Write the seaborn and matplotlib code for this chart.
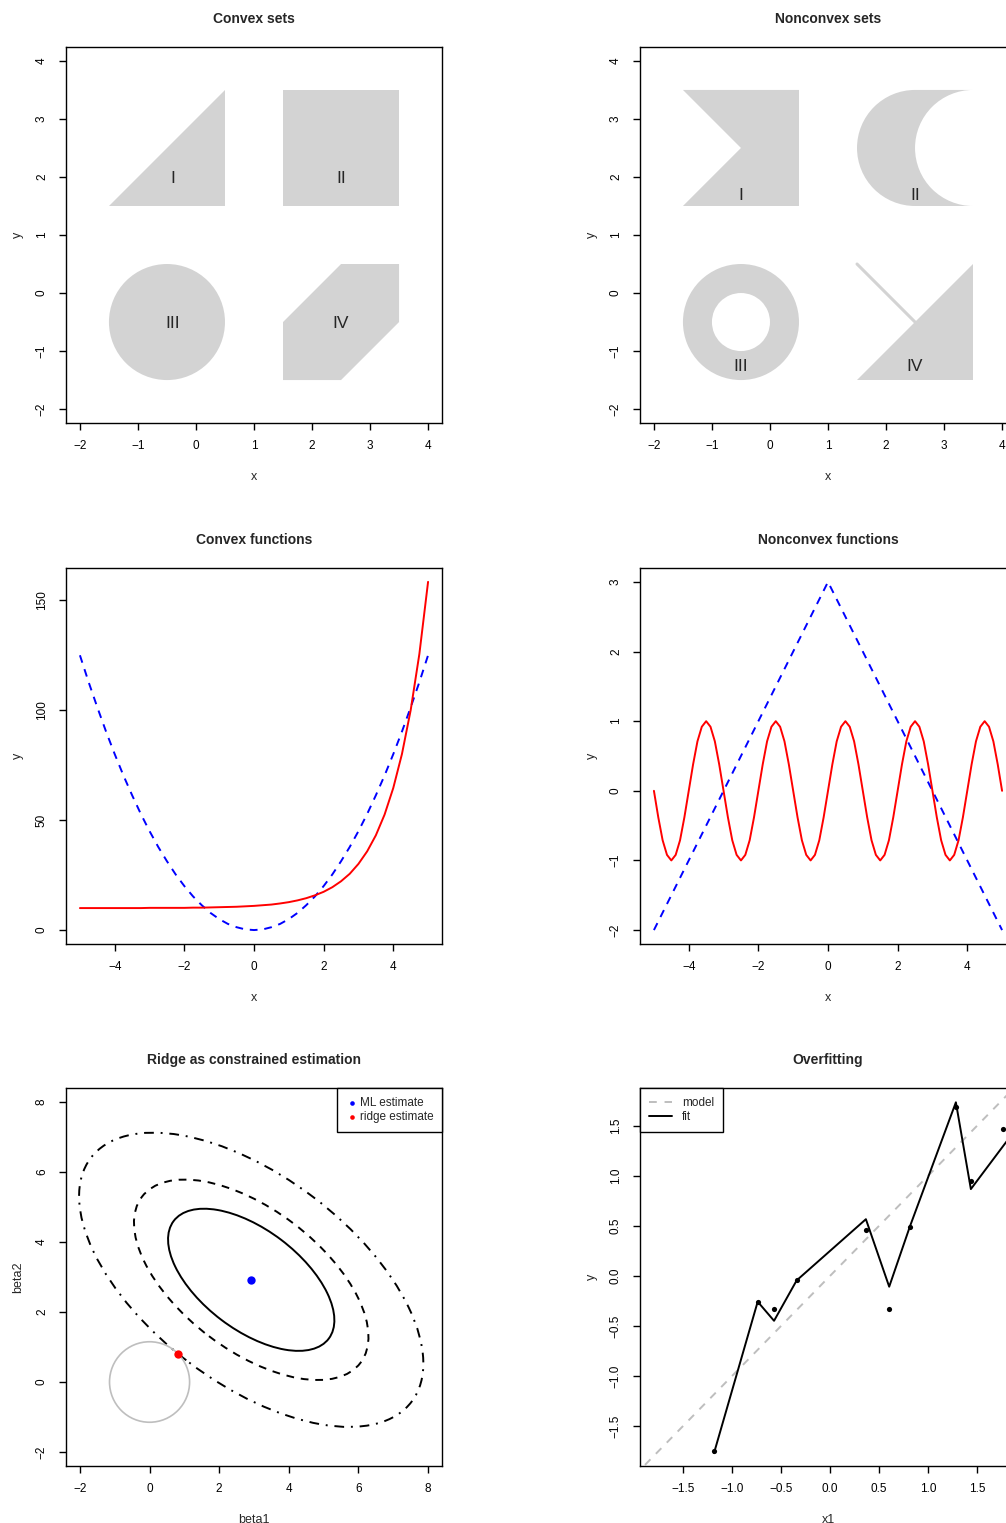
import numpy as np
import matplotlib
matplotlib.use("Agg")
import matplotlib.pyplot as plt
import seaborn as sns
from matplotlib.path import Path
from matplotlib.patches import Circle, Wedge, Ellipse, PathPatch

# ---- data ---------------------------------------------------------------
set_labels = ["I", "II", "III", "IV"]

# convex sets
cvx_tri_x = [-1.5, 0.5, 0.5]
cvx_tri_y = [1.5, 1.5, 3.5]
cvx_sq_x = [1.5, 3.5, 3.5, 1.5]
cvx_sq_y = [1.5, 1.5, 3.5, 3.5]
cvx_disc_center = (-0.5, -0.5)
cvx_disc_r = 1.0
cvx_oct_x = [1.5, 2.5, 3.5, 3.5, 2.5, 1.5]
cvx_oct_y = [-1.5, -1.5, -0.5, 0.5, 0.5, -0.5]
cvx_label_x = [-0.4, 2.5, -0.4, 2.5]
cvx_label_y = [1.97, 1.97, -0.53, -0.53]

# nonconvex sets
ncv_notch_x = [-1.5, 0.5, 0.5, -1.5, -0.5]
ncv_notch_y = [1.5, 1.5, 3.5, 3.5, 2.5]
ncv_moon_center = (2.5, 2.5)
ncv_bite_center = (3.5, 2.5)
ncv_moon_r = 1.0
ncv_ring_center = (-0.5, -0.5)
ncv_ring_r = [1.0, 0.5]
ncv_tri_x = [1.5, 3.5, 3.5]
ncv_tri_y = [-1.5, -1.5, 0.5]
ncv_seg_x = [1.5, 2.5]
ncv_seg_y = [0.5, -0.5]
ncv_label_x = [-0.5, 2.5, -0.5, 2.5]
ncv_label_y = [1.68, 1.68, -1.27, -1.27]

# convex functions (x from -5 to 5, step 0.25)
fx = np.linspace(-5, 5, 41)
f_exp = [10.0, 10.0, 10.0, 10.0, 10.0, 10.0, 10.0, 10.0, 10.1, 10.1, 10.1,
         10.1, 10.1, 10.2, 10.2, 10.3, 10.4, 10.5, 10.6, 10.8, 11.0, 11.3,
         11.6, 12.1, 12.7, 13.5, 14.5, 15.8, 17.4, 19.5, 22.2, 25.6, 30.1,
         35.8, 43.1, 52.5, 64.6, 80.1, 100.0, 125.6, 158.4]
f_quad = [125.0, 112.8, 101.3, 90.3, 80.0, 70.3, 61.3, 52.8, 45.0, 37.8, 31.3,
          25.3, 20.0, 15.3, 11.3, 7.8, 5.0, 2.8, 1.3, 0.3, 0.0, 0.3, 1.3, 2.8,
          5.0, 7.8, 11.3, 15.3, 20.0, 25.3, 31.3, 37.8, 45.0, 52.8, 61.3, 70.3,
          80.0, 90.3, 101.3, 112.8, 125.0]

# nonconvex functions
tent_x = [-5.0, 0.0, 5.0]
tent_y = [-2.0, 3.0, -2.0]
wave_x = np.linspace(-5, 5, 81)
wave_y = [0.0, -0.38, -0.71, -0.92, -1.0, -0.92, -0.71, -0.38,
          0.0, 0.38, 0.71, 0.92, 1.0, 0.92, 0.71, 0.38,
          0.0, -0.38, -0.71, -0.92, -1.0, -0.92, -0.71, -0.38,
          0.0, 0.38, 0.71, 0.92, 1.0, 0.92, 0.71, 0.38,
          0.0, -0.38, -0.71, -0.92, -1.0, -0.92, -0.71, -0.38,
          0.0, 0.38, 0.71, 0.92, 1.0, 0.92, 0.71, 0.38,
          0.0, -0.38, -0.71, -0.92, -1.0, -0.92, -0.71, -0.38,
          0.0, 0.38, 0.71, 0.92, 1.0, 0.92, 0.71, 0.38,
          0.0, -0.38, -0.71, -0.92, -1.0, -0.92, -0.71, -0.38,
          0.0, 0.38, 0.71, 0.92, 1.0, 0.92, 0.71, 0.38,
          0.0]

# ridge
ml_est = (2.92, 2.92)
ridge_est = (0.81, 0.80)
constraint_r = 1.15
contour_axes = (2.79, 1.43)   # semi axes of innermost contour
contour_angle = -37.0
contour_scale = [1.0, 1.41, 2.07]
contour_styles = ["-", (0, (4, 3.5)), (0, (1, 3.5, 5, 3.5))]

# overfitting
obs_x = [-1.184, -0.738, -0.571, -0.340, 0.367, 0.605, 0.816, 1.286, 1.439, 1.769]
obs_y = [-1.75, -0.257, -0.327, -0.044, 0.458, -0.334, 0.494, 1.690, 0.955, 1.466]
fit_x = [-1.184, -0.738, -0.571, -0.340, 0.367, 0.605, 0.816, 1.286, 1.439, 1.769, 1.90]
fit_y = [-1.77, -0.257, -0.448, -0.044, 0.568, -0.107, 0.494, 1.737, 0.869, 1.30, 1.47]
model_x = [-2.0, 2.0]
model_y = [-2.0, 2.0]

# ---- style --------------------------------------------------------------
sns.set_theme(style="ticks")
plt.rcParams["font.family"] = ["Liberation Sans", "DejaVu Sans"]
plt.rcParams.update({
    "axes.edgecolor": "black",
    "axes.linewidth": 1.0,
    "xtick.color": "black",
    "ytick.color": "black",
    "xtick.major.size": 5,
    "ytick.major.size": 5,
    "xtick.major.width": 1.0,
    "ytick.major.width": 1.0,
    "xtick.labelsize": 8.5,
    "ytick.labelsize": 8.5,
    "xtick.major.pad": 7.5,
    "ytick.major.pad": 8,
    "axes.labelsize": 9,
    "axes.titlesize": 10,
    "axes.titleweight": "bold",
    "legend.fontsize": 8.5,
})

FILL = "#D3D3D3"
GREY = "#BEBEBE"
W, H = 1006, 1523
fig = plt.figure(figsize=(W / 100, H / 100), dpi=100)


def add_panel(left, top, w, h):
    return fig.add_axes([left / W, 1 - (top + h) / H, w / W, h / H])


def finish(ax, title, xlabel, ylabel, xlim, ylim, xticks, yticks):
    ax.set_xlim(xlim)
    ax.set_ylim(ylim)
    ax.set_xticks(xticks)
    ax.set_yticks(yticks)
    ax.set_title(title, pad=17)
    ax.set_xlabel(xlabel)
    ax.set_ylabel(ylabel)
    ax.xaxis.set_label_coords(0.5, -0.127)
    ax.yaxis.set_label_coords(-0.112, 0.5)
    ax.tick_params(axis="y", labelrotation=90)
    plt.setp(ax.get_yticklabels(), va="center")
    for s in ax.spines.values():
        s.set_visible(True)


def arc_vertices(center, radius, t1, t2):
    return Path.arc(t1, t2).vertices * radius + np.asarray(center)


# ---- convex sets --------------------------------------------------------
ax1 = add_panel(66, 47, 376, 376)
ax1.fill(cvx_tri_x, cvx_tri_y, color=FILL, lw=0)
ax1.fill(cvx_sq_x, cvx_sq_y, color=FILL, lw=0)
ax1.add_patch(Circle(cvx_disc_center, cvx_disc_r, color=FILL, lw=0))
ax1.fill(cvx_oct_x, cvx_oct_y, color=FILL, lw=0)
for lab, x, y in zip(set_labels, cvx_label_x, cvx_label_y):
    ax1.text(x, y, lab, ha="center", va="center", fontsize=12.5)
finish(ax1, "Convex sets", "x", "y", (-2.24, 4.24), (-2.24, 4.24),
       range(-2, 5), range(-2, 5))

# ---- nonconvex sets -----------------------------------------------------
ax2 = add_panel(640, 47, 376, 376)
ax2.fill(ncv_notch_x, ncv_notch_y, color=FILL, lw=0)
outer = arc_vertices(ncv_moon_center, ncv_moon_r, 90, 270)
inner = arc_vertices(ncv_bite_center, ncv_moon_r, 90, 270)[::-1]
verts = np.vstack([outer, inner, outer[:1]])
codes = ([Path.MOVETO] + [Path.CURVE4] * (len(outer) - 1) + [Path.LINETO]
         + [Path.CURVE4] * (len(inner) - 1) + [Path.CLOSEPOLY])
ax2.add_patch(PathPatch(Path(verts, codes), color=FILL, lw=0))
ax2.add_patch(Wedge(ncv_ring_center, ncv_ring_r[0], 0, 360,
                    width=ncv_ring_r[0] - ncv_ring_r[1], color=FILL, lw=0))
ax2.fill(ncv_tri_x, ncv_tri_y, color=FILL, lw=0)
sns.lineplot(x=ncv_seg_x, y=ncv_seg_y, color=FILL, lw=2.2, ax=ax2)
for lab, x, y in zip(set_labels, ncv_label_x, ncv_label_y):
    ax2.text(x, y, lab, ha="center", va="center", fontsize=12.5)
finish(ax2, "Nonconvex sets", "x", "y", (-2.24, 4.24), (-2.24, 4.24),
       range(-2, 5), range(-2, 5))

# ---- convex functions ---------------------------------------------------
ax3 = add_panel(66, 568, 376, 376)
sns.lineplot(x=fx, y=f_quad, color="blue", lw=1.4, linestyle=(0, (4, 3.5)), ax=ax3)
sns.lineplot(x=fx, y=f_exp, color="red", lw=1.4, ax=ax3)
finish(ax3, "Convex functions", "x", "y", (-5.4, 5.4), (-6.34, 164.7),
       [-4, -2, 0, 2, 4], [0, 50, 100, 150])

# ---- nonconvex functions ------------------------------------------------
ax4 = add_panel(640, 568, 376, 376)
sns.lineplot(x=tent_x, y=tent_y, color="blue", lw=1.4, linestyle=(0, (4, 3.5)), ax=ax4)
sns.lineplot(x=wave_x, y=wave_y, color="red", lw=1.4, ax=ax4)
finish(ax4, "Nonconvex functions", "x", "y", (-5.4, 5.4), (-2.2, 3.2),
       [-4, -2, 0, 2, 4], range(-2, 4))

# ---- ridge --------------------------------------------------------------
ax5 = add_panel(66, 1088, 376, 378)
for sc, ls in zip(contour_scale, contour_styles):
    ax5.add_patch(Ellipse(ml_est, 2 * contour_axes[0] * sc, 2 * contour_axes[1] * sc,
                          angle=contour_angle, fill=False, ec="black", lw=1.4, ls=ls))
ax5.add_patch(Circle((0, 0), constraint_r, fill=False, ec=GREY, lw=1.2))
sns.scatterplot(x=[ml_est[0]], y=[ml_est[1]], color="blue", s=36, lw=0,
                label="ML estimate", ax=ax5)
sns.scatterplot(x=[ridge_est[0]], y=[ridge_est[1]], color="red", s=36, lw=0,
                label="ridge estimate", ax=ax5)
leg = ax5.legend(loc="upper right", borderaxespad=0, fancybox=False, framealpha=1,
                 edgecolor="black", markerscale=0.55, handletextpad=0.1,
                 labelspacing=0.2, borderpad=0.75, handlelength=1.1)
leg.get_frame().set_linewidth(1.0)
finish(ax5, "Ridge as constrained estimation", "beta1", "beta2",
       (-2.4, 8.4), (-2.4, 8.4), range(-2, 9, 2), range(-2, 9, 2))

# ---- overfitting --------------------------------------------------------
ax6 = add_panel(640, 1088, 376, 378)
sns.lineplot(x=model_x, y=model_y, color=GREY, lw=1.4, linestyle=(0, (4, 4)),
             label="model", ax=ax6)
sns.lineplot(x=fit_x, y=fit_y, color="black", lw=1.4, label="fit", ax=ax6)
sns.scatterplot(x=obs_x, y=obs_y, color="black", s=14, lw=0, ax=ax6)
leg = ax6.legend(loc="upper left", borderaxespad=0, fancybox=False, framealpha=1,
                 edgecolor="black", handletextpad=0.8, labelspacing=0.2,
                 borderpad=0.75, handlelength=2.0)
leg.get_frame().set_linewidth(1.0)
finish(ax6, "Overfitting", "x1", "y", (-1.94, 1.90), (-1.90, 1.88),
       [-1.5, -1.0, -0.5, 0.0, 0.5, 1.0, 1.5], [-1.5, -1.0, -0.5, 0.0, 0.5, 1.0, 1.5])

fig.savefig("out.png", dpi=100)
